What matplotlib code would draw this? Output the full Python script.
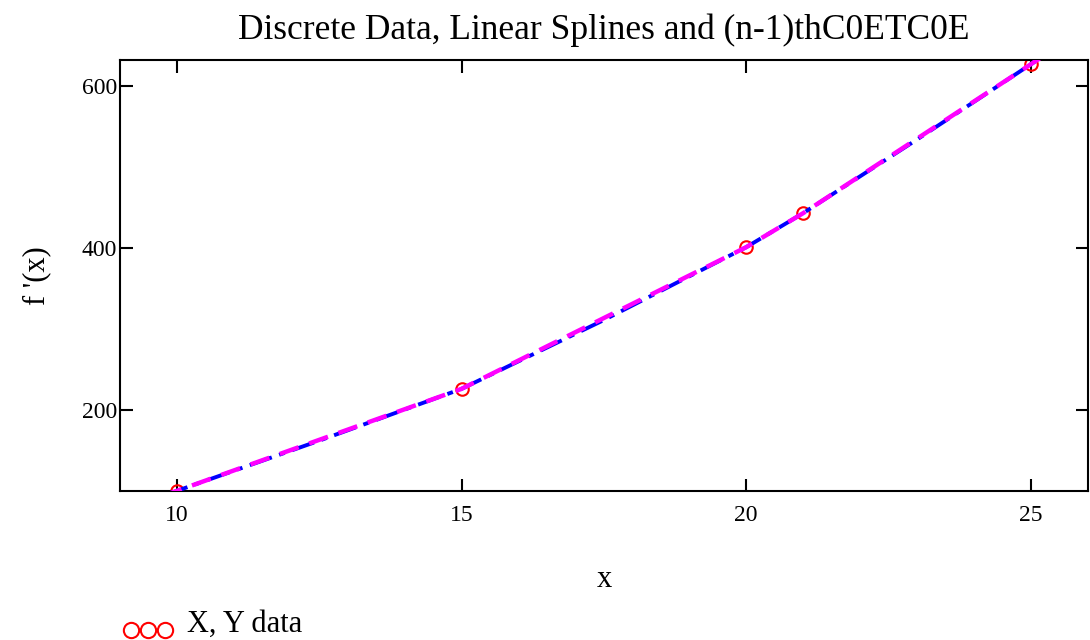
import matplotlib.pyplot as plt
import numpy as np

# diskret veri noktalari
X = [10, 15, 20, 21, 25]
Y = [100, 226, 401, 443, 627]

# lineer spline ve (n-1). derece egri (gorunen uclariyla birlikte)
x_spline = [9.75, 10, 15, 20, 21, 25, 25.3]
y_spline = [94, 100, 226, 401, 443, 627, 641]
x_poly = [9.8, 10, 12.5, 15, 17.5, 20, 21, 23, 25, 25.3]
y_poly = [95, 100, 162, 226, 311, 401, 443, 534, 627, 641]

x_ticks = [10, 15, 20, 25]
y_ticks = [200, 400, 600]

plt.rcParams['font.family'] = ['Liberation Serif', 'DejaVu Serif']

fig = plt.figure(figsize=(10.9, 6.4), dpi=100)
ax = fig.add_axes([0.110, 0.233, 0.888, 0.673])

ax.plot(X, Y, 'o', mfc='none', mec='red', ms=9, mew=1.5, zorder=2)
ax.plot(x_poly, y_poly, color='blue', lw=2.8, ls=(0, (6, 2, 1.5, 2)), zorder=3)
ax.plot(x_spline, y_spline, color='magenta', lw=3.2, ls=(0, (4.5, 2.5)), zorder=4)

ax.set_xlim(9, 26)
ax.set_ylim(100, 632)
ax.set_xticks(x_ticks)
ax.set_yticks(y_ticks)
ax.tick_params(direction='in', length=9, width=1.5, top=True, right=True,
               labelsize=17)
ax.tick_params(axis='x', pad=10)
ax.tick_params(axis='y', pad=2)
for s in ax.spines.values():
    s.set_linewidth(1.5)

ax.set_title("Discrete Data, Linear Splines and (n-1)thC0ETC0E", fontsize=25.5, pad=15)
ax.set_xlabel("x", fontsize=22, labelpad=28)
ax.set_ylabel("f '(x)", fontsize=22, labelpad=22)

# lejant, alt kenarda
fig.lines.append(plt.Line2D([0.120, 0.136, 0.151], [0.016, 0.016, 0.016],
                            transform=fig.transFigure, ls='none', marker='o',
                            mfc='none', mec='red', ms=11, mew=1.5))
fig.text(0.172, 0.002, "X, Y data", fontsize=22, ha='left', va='bottom')

fig.savefig("out.png", dpi=100)
plt.close()
